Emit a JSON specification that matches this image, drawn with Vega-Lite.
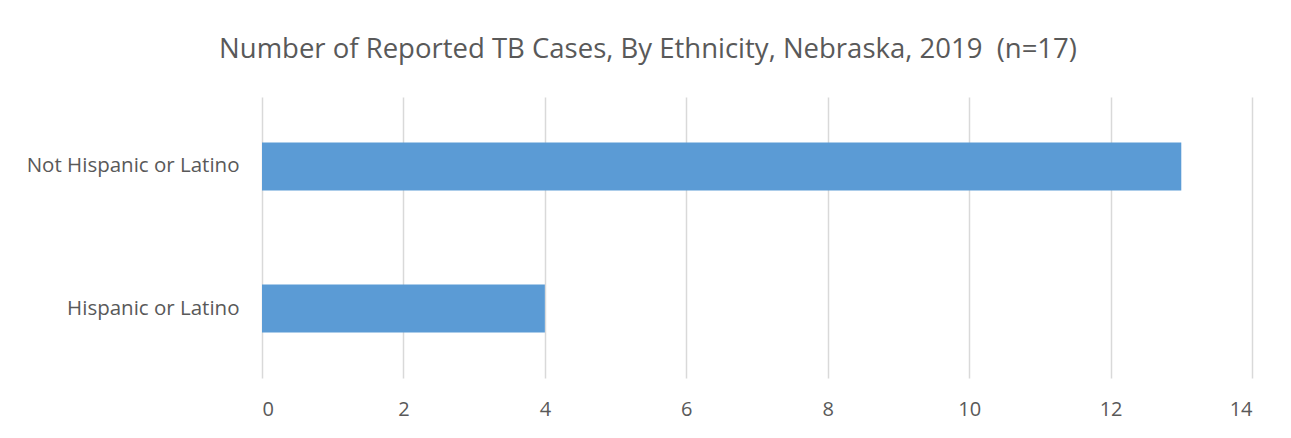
{
  "$schema": "https://vega.github.io/schema/vega-lite/v6.json",
  "autosize": "none",
  "width": 990,
  "height": 281,
  "padding": {"left": 262, "top": 97, "right": 39, "bottom": 60},
  "background": "white",
  "title": {
    "text": "Number of Reported TB Cases, By Ethnicity, Nebraska, 2019 \u00a0(n=17)",
    "font": "Open Sans",
    "fontSize": 27.5,
    "fontWeight": "normal",
    "color": "#595959",
    "anchor": "middle",
    "dx": -109,
    "offset": 34
  },
  "data": {
    "values": [
      {"ethnicity": "Not Hispanic or Latino", "cases": 13},
      {"ethnicity": "Hispanic or Latino", "cases": 4}
    ]
  },
  "mark": {"type": "bar", "color": "#5B9BD5"},
  "encoding": {
    "y": {
      "field": "ethnicity",
      "type": "nominal",
      "sort": ["Not Hispanic or Latino", "Hispanic or Latino"],
      "scale": {"paddingInner": 0.662, "paddingOuter": 0.32},
      "axis": {
        "title": null,
        "domain": false,
        "ticks": false,
        "labelFont": "Open Sans",
        "labelFontSize": 20.5,
        "labelLimit": 400,
        "labelColor": "#595959",
        "labelPadding": 23
      }
    },
    "x": {
      "field": "cases",
      "type": "quantitative",
      "scale": {"domain": [0, 14], "nice": false},
      "axis": {
        "title": null,
        "values": [0, 2, 4, 6, 8, 10, 12, 14],
        "domain": false,
        "ticks": false,
        "grid": true,
        "gridColor": "#D9D9D9",
        "gridWidth": 1.5,
        "labelFont": "Open Sans",
        "labelFontSize": 20,
        "labelColor": "#595959",
        "labelPadding": 21
      }
    }
  },
  "config": {"view": {"stroke": null}}
}
